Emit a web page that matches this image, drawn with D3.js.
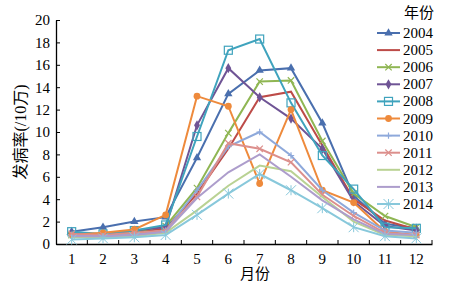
<!DOCTYPE html>
<html>
<head>
<meta charset="utf-8">
<script src="https://cdn.jsdelivr.net/npm/d3@7"></script>
<style>
  body { margin: 0; background: #fff; }
  svg text { font-family: "Liberation Serif", "Times New Roman", "Noto Sans CJK SC", serif; fill: #000; }
</style>
</head>
<body>
<div id="chart"></div>
<script>
// chart size
const width = 461;
const height = 289;

// data
const months = [1, 2, 3, 4, 5, 6, 7, 8, 9, 10, 11, 12];
const years = ["2004", "2005", "2006", "2007", "2008", "2009", "2010", "2011", "2012", "2013", "2014"];
const yTicks = [0, 2, 4, 6, 8, 10, 12, 14, 16, 18, 20];

const v2004 = [1.1, 1.5, 2.0, 2.4, 7.7, 13.4, 15.5, 15.7, 10.8, 4.3, 1.8, 1.4];
const v2005 = [0.9, 0.8, 1.0, 1.4, 4.5, 8.5, 13.1, 13.6, 8.8, 4.0, 2.1, 1.3];
const v2006 = [0.8, 0.8, 1.1, 1.6, 5.0, 9.9, 14.5, 14.6, 9.2, 4.5, 2.5, 1.5];
const v2007 = [0.9, 0.9, 1.2, 1.5, 10.6, 15.7, 13.1, 11.2, 8.5, 3.8, 1.6, 1.2];
const v2008 = [1.1, 0.9, 1.2, 1.7, 9.6, 17.3, 18.3, 12.6, 7.9, 4.9, 1.5, 1.4];
const v2009 = [0.8, 1.0, 1.3, 2.6, 13.2, 12.3, 5.4, 12.0, 4.8, 3.7, 1.1, 0.8];
const v2010 = [0.8, 0.7, 0.9, 1.2, 4.8, 8.7, 10.0, 7.9, 4.8, 2.8, 1.2, 1.0];
const v2011 = [0.9, 0.8, 1.0, 1.2, 4.2, 9.0, 8.5, 7.3, 4.4, 2.5, 1.0, 0.8];
const v2012 = [0.6, 0.6, 0.7, 1.0, 3.0, 5.2, 7.0, 6.5, 4.2, 2.0, 0.8, 0.7];
const v2013 = [0.7, 0.7, 0.8, 1.1, 4.1, 6.4, 8.0, 6.0, 3.9, 2.2, 0.9, 0.8];
const v2014 = [0.4, 0.5, 0.6, 0.8, 2.6, 4.5, 6.25, 4.8, 3.2, 1.5, 0.7, 0.5];

const values = [v2004, v2005, v2006, v2007, v2008, v2009, v2010, v2011, v2012, v2013, v2014];

// colours and marker shapes per year
const colors = ["#4a6fae", "#bd4b48", "#8fb653", "#6f5495", "#3fa3bd", "#ee8a3c",
                "#8ea9db", "#dc8f8c", "#b9d293", "#ad9dcc", "#88c8db"];
const markers = ["triangle", "none", "cross", "diamond", "square", "circle",
                 "plus", "cross", "none", "none", "star"];

const series = years.map((y, i) => ({
  year: y,
  color: colors[i],
  marker: markers[i],
  points: months.map((m, j) => ({ month: m, value: values[i][j] }))
}));

const svg = d3.select("#chart").append("svg")
  .attr("width", width)
  .attr("height", height);

const x = d3.scaleBand().domain(months).range([56, 432]);
const y = d3.scaleLinear().domain([0, 20]).range([244, 20]);
const cx = (m) => x(m) + x.bandwidth() / 2;

// axes
const yAxis = svg.append("g")
  .attr("transform", "translate(56,0)")
  .call(d3.axisLeft(y).tickValues(yTicks).tickSize(0).tickPadding(6));
yAxis.selectAll(".tick line").remove();
yAxis.selectAll(".tick").append("line")
  .attr("x1", 0).attr("x2", 4).attr("stroke", "#000");
yAxis.select(".domain").attr("stroke", "#000").attr("stroke-width", 1.3);
yAxis.selectAll("text").style("font-size", "15px");

const xAxis = svg.append("g")
  .attr("transform", "translate(0,244)")
  .call(d3.axisBottom(x).tickSize(0).tickPadding(9));
xAxis.select(".domain").attr("stroke", "#000").attr("stroke-width", 1.3);
xAxis.selectAll("text").style("font-size", "15px");
// tick marks sit between the months
svg.append("g").selectAll("line")
  .data(months)
  .join("line")
  .attr("x1", (d) => x(d) + x.bandwidth())
  .attr("x2", (d) => x(d) + x.bandwidth())
  .attr("y1", 244).attr("y2", 240)
  .attr("stroke", "#000");

// axis titles
svg.append("text")
  .attr("transform", "translate(26,132) rotate(-90)")
  .attr("text-anchor", "middle")
  .style("font-size", "16px")
  .text("发病率(/10万)");

svg.append("text")
  .attr("x", 255).attr("y", 279)
  .attr("text-anchor", "middle")
  .style("font-size", "15px")
  .text("月份");

// draw a marker
function drawMarker(g, type, color, px, py) {
  const s = 3.2;
  if (type === "triangle") {
    g.append("path").attr("d", d3.symbol(d3.symbolTriangle, 30)())
      .attr("transform", `translate(${px},${py})`).attr("fill", color);
  } else if (type === "diamond") {
    g.append("path").attr("d", d3.symbol(d3.symbolDiamond, 30)())
      .attr("transform", `translate(${px},${py})`).attr("fill", color);
  } else if (type === "circle") {
    g.append("circle").attr("cx", px).attr("cy", py).attr("r", 3.4).attr("fill", color);
  } else if (type === "square") {
    g.append("rect").attr("x", px - 4).attr("y", py - 4).attr("width", 8).attr("height", 8)
      .attr("fill", "none").attr("stroke", color).attr("stroke-width", 1.2);
  } else if (type === "cross") {
    g.append("path").attr("d", `M${px - s},${py - s}L${px + s},${py + s}M${px - s},${py + s}L${px + s},${py - s}`)
      .attr("stroke", color).attr("stroke-width", 1.2);
  } else if (type === "plus") {
    g.append("path").attr("d", `M${px - s},${py}L${px + s},${py}M${px},${py - s}L${px},${py + s}`)
      .attr("stroke", color).attr("stroke-width", 1.2);
  } else if (type === "star") {
    const r = 5;
    g.append("path").attr("d", `M${px - r},${py - r}L${px + r},${py + r}M${px - r},${py + r}L${px + r},${py - r}M${px},${py - r}L${px},${py + r}`)
      .attr("stroke", color).attr("stroke-width", 1);
  }
}

// lines
const line = d3.line().x((d) => cx(d.month)).y((d) => y(d.value));

series.forEach((s) => {
  const g = svg.append("g");
  g.append("path")
    .datum(s.points)
    .attr("d", line)
    .attr("fill", "none")
    .attr("stroke", s.color)
    .attr("stroke-width", 2);
  s.points.forEach((p) => drawMarker(g, s.marker, s.color, cx(p.month), y(p.value)));
});

// legend
const legend = svg.append("g");
legend.append("text")
  .attr("x", 419).attr("y", 18)
  .attr("text-anchor", "middle")
  .style("font-size", "15px")
  .text("年份");

series.forEach((s, i) => {
  const ly = 33 + i * 17.1;
  legend.append("line")
    .attr("x1", 377).attr("x2", 400)
    .attr("y1", ly).attr("y2", ly)
    .attr("stroke", s.color).attr("stroke-width", 2);
  drawMarker(legend, s.marker, s.color, 388.5, ly);
  legend.append("text")
    .attr("x", 403).attr("y", ly + 5)
    .style("font-size", "15px")
    .text(s.year);
});
</script>
</body>
</html>
